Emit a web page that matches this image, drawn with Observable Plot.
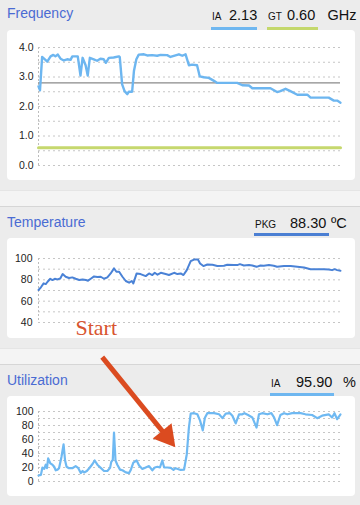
<!DOCTYPE html>
<html>
<head>
<meta charset="utf-8">
<script src="https://cdn.jsdelivr.net/npm/d3@7"></script>
<script src="https://cdn.jsdelivr.net/npm/@observablehq/plot@0.6"></script>
<style>
  html, body { margin: 0; padding: 0; }
  body { width: 360px; height: 505px; overflow: hidden; background: #ececec; position: relative; font-family: "Liberation Sans", Arial, sans-serif; }
  .abs { position: absolute; white-space: nowrap; line-height: 1; }
  .title { font-size: 14px; color: #4a6bd3; }
  .small { font-size: 10px; color: #111; }
  .val { font-size: 14.5px; color: #111; }
  .bar { position: absolute; height: 3px; }
  .band { position: absolute; left: 0; width: 360px; height: 15px; background: #f4f4f4; border-top: 1px solid #e5e5e5; border-bottom: 1px solid #d6d6d6; }
  .card { position: absolute; left: 7px; width: 348px; background: #fff; border-radius: 4px; }
  .card svg { position: absolute; left: 0; top: 0; }
</style>
</head>
<body>
<div class="band" style="top:190px"></div>
<div class="band" style="top:348px"></div>

<div class="abs title" style="left:7px;top:6.4px">Frequency</div>
<div class="abs small" style="left:212px;top:11.5px">IA</div>
<div class="abs val" style="left:229px;top:7.8px">2.13</div>
<div class="bar" style="left:211px;top:27px;width:46px;background:#6fb7f0"></div>
<div class="abs small" style="left:268px;top:11.5px">GT</div>
<div class="abs val" style="left:287px;top:7.8px">0.60</div>
<div class="bar" style="left:267px;top:27px;width:51px;background:#c4d86c"></div>
<div class="abs val" style="left:327.5px;top:7.8px">GHz</div>

<div class="abs title" style="left:7px;top:214.8px">Temperature</div>
<div class="abs small" style="left:255px;top:219.8px">PKG</div>
<div class="abs val" style="left:290px;top:216px">88.30</div>
<div class="abs val" style="left:331px;top:216px">ºC</div>
<div class="bar" style="left:254px;top:233px;width:75px;background:#4b7fd3"></div>

<div class="abs title" style="left:7px;top:373px">Utilization</div>
<div class="abs small" style="left:271px;top:378.8px">IA</div>
<div class="abs val" style="left:296px;top:375px">95.90</div>
<div class="abs val" style="left:343px;top:375px">%</div>
<div class="bar" style="left:270px;top:392.5px;width:64px;background:#6fb7f0"></div>

<div class="card" id="freq" style="top:30px;height:150px"></div>
<div class="card" id="temp" style="top:238px;height:100px"></div>
<div class="card" id="util" style="top:396px;height:100px"></div>

<script>
// ---------- data ----------
const freqTime = [0, 0.3, 0.5, 1.2, 2.3, 2.9, 4.0, 4.9, 5.6, 6.4, 7.3, 8.4, 9.5, 10.6, 11.2, 13.0, 13.9, 14.6, 15.6, 16.3, 17.0, 18.3, 19.4, 20.5, 21.6, 22.3, 23.3, 24.9, 26.6, 26.9, 27.7, 28.5, 29.4, 29.9, 31.0, 31.6, 32.4, 33.2, 34.9, 36.0, 37.6, 39.3, 40.4, 42.6, 43.7, 46.5, 47.6, 48.7, 49.8, 50.9, 52.5, 53.4, 54.7, 56.4, 58.1, 59.2, 65.8, 67.5, 69.7, 70.8, 76.8, 79.0, 80.1, 81.8, 83.4, 85.7, 89.0, 90.1, 96.1, 97.8, 98.9, 100];
const freqIA = [2.68, 2.6, 2.55, 3.68, 3.58, 3.52, 3.7, 3.75, 3.7, 3.76, 3.62, 3.56, 3.6, 3.58, 3.7, 3.7, 3.05, 3.65, 3.4, 3.05, 3.65, 3.6, 3.55, 3.62, 3.6, 3.48, 3.65, 3.66, 3.7, 3.68, 2.75, 2.52, 2.42, 2.5, 2.5, 3.2, 3.6, 3.76, 3.77, 3.73, 3.74, 3.72, 3.75, 3.74, 3.68, 3.77, 3.72, 3.77, 3.4, 3.42, 3.4, 3.02, 2.99, 2.97, 2.87, 2.8, 2.8, 2.72, 2.71, 2.62, 2.62, 2.49, 2.52, 2.6, 2.52, 2.4, 2.4, 2.3, 2.3, 2.2, 2.2, 2.13];
const freqGTTime = [0, 100];
const freqGT = [0.60, 0.60];
const freqRef = [2.80];
const freqGrid = [0, 0.5, 1, 1.5, 2, 2.5, 3, 3.5, 4];
const freqTicks = [0, 1, 2, 3, 4];

const tempTime = [0, 0.8, 1.7, 2.4, 3.0, 3.9, 4.6, 5.4, 6.3, 7.2, 8.0, 9.0, 10.1, 11.2, 12.3, 13.5, 14.6, 15.7, 16.4, 17.3, 18.4, 19.5, 20.6, 21.7, 22.8, 23.9, 25.0, 25.8, 26.7, 27.8, 28.9, 30.0, 30.9, 31.4, 32.5, 33.8, 35.5, 36.6, 37.7, 38.5, 39.4, 40.5, 42.1, 43.2, 44.9, 46.0, 47.1, 48.0, 49.1, 50.4, 51.5, 52.8, 53.5, 54.6, 55.9, 57.6, 59.2, 61.4, 62.5, 64.7, 65.8, 66.7, 68.0, 69.7, 70.8, 72.2, 73.5, 74.6, 76.3, 77.9, 79.0, 81.3, 83.5, 85.7, 87.9, 90.1, 92.3, 94.5, 96.1, 97.2, 98.1, 98.9, 100];
const tempPKG = [70.5, 73, 76.7, 76, 78.2, 81, 79.8, 81, 80.4, 81.3, 85.4, 82.9, 81.7, 82.3, 81, 79.8, 80.4, 79.8, 79.2, 81, 83.2, 82.6, 82.9, 81, 82.3, 86, 90.7, 87.6, 87.6, 82.9, 78.9, 77.3, 78.9, 76.7, 86, 85.4, 83.5, 86, 84.5, 86.6, 84.8, 86.6, 85.4, 84.5, 86.6, 85.4, 86, 84.5, 89.1, 97.5, 99, 99, 95.3, 92.9, 94.4, 94.1, 92.9, 93.2, 94.1, 93.8, 93.8, 94.7, 93.5, 93.8, 93.5, 92.2, 93.5, 93.2, 93.8, 93.2, 92.2, 92.9, 92.9, 92.2, 91.6, 90, 90, 90, 89.7, 89.1, 90, 89.1, 88.5];
const tempGrid = [40, 50, 60, 70, 80, 90, 100];
const tempTicks = [40, 60, 80, 100];

const utilTime = [0, 0.8, 1.3, 1.9, 2.4, 2.8, 3.2, 3.9, 4.6, 5.2, 5.7, 6.3, 6.8, 7.6, 8.3, 8.8, 9.3, 10.1, 11.2, 12.3, 13.1, 14.0, 14.6, 15.1, 16.0, 16.8, 17.9, 18.6, 19.5, 20.6, 21.7, 22.8, 23.7, 24.1, 24.6, 25.0, 25.5, 26.1, 27.0, 27.8, 28.9, 30.0, 30.5, 31.4, 32.5, 33.3, 34.4, 35.5, 36.6, 37.7, 38.5, 39.4, 40.2, 41.0, 41.6, 42.7, 43.8, 44.7, 45.4, 47.1, 48.2, 49.1, 49.8, 50.4, 51.5, 52.6, 53.5, 54.4, 55.1, 55.9, 58.1, 59.8, 60.9, 62.0, 63.4, 64.2, 65.3, 66.4, 67.5, 68.2, 69.4, 70.8, 72.2, 73.0, 74.1, 75.8, 77.1, 78.0, 79.0, 80.1, 81.3, 82.4, 84.0, 86.8, 88.4, 90.6, 92.3, 93.9, 96.1, 97.2, 98.0, 98.9, 100];
const utilIA = [8.5, 9.5, 20, 18, 24, 19, 33, 26, 24, 21, 16, 17, 19, 35, 53, 30, 21, 19, 19, 22, 19.5, 12, 15, 13, 15, 19, 25, 30, 24, 19.5, 15, 15, 19.5, 28, 31, 70, 30, 24, 17, 16, 13, 12, 16, 27, 30, 23, 18, 20, 22, 16, 20, 21, 20, 30, 20, 20, 19.5, 16.5, 19, 16.5, 17, 39, 77, 97, 97.6, 96, 87, 73, 91, 97.6, 97.6, 96, 90.5, 97, 97.6, 94, 83, 96, 96, 97.6, 95, 91.5, 77, 96, 97.6, 96, 97.6, 91.5, 80.5, 95, 97.6, 96, 97.6, 97.6, 96, 95, 90.5, 94, 96, 91.5, 97.6, 89, 96];
const utilGrid = [0, 10, 20, 30, 40, 50, 60, 70, 80, 90, 100];
const utilTicks = [0, 20, 40, 60, 80, 100];

// annotation ("Start" arrow), in utilization data units
const arrowFrom = {t: 21.1, v: 177.6};
const arrowTo = {t: 42.4, v: 64.6};
const arrowAngle = 141;
const startLabel = {t: 12.25, v: 208.6, text: "Start"};

// ---------- styles ----------
const gridStyle = {stroke: "#c6c6c6", strokeDasharray: "2,3", strokeWidth: 1};
const baseStyle = {background: "transparent", overflow: "visible", fontFamily: "Liberation Sans, Arial, sans-serif", fontSize: "10.5px", color: "#222"};
const xScale = {domain: [0, 100], axis: null};

const pts = (ts, vs) => ts.map((t, i) => ({t, v: vs[i]}));

// Frequency
document.getElementById("freq").append(Plot.plot({
  width: 348, height: 150,
  marginLeft: 31, marginRight: 15, marginTop: 17, marginBottom: 15,
  style: baseStyle,
  x: xScale,
  y: {domain: [0, 4], ticks: freqTicks, tickSize: 0, tickPadding: 5, tickFormat: d3.format(".1f"), label: null},
  marks: [
    Plot.ruleY(freqGrid, gridStyle),
    Plot.ruleX([0], {stroke: "#bdbdbd", strokeDasharray: "2,2"}),
    Plot.ruleY(freqRef, {stroke: "#8a8a8a", strokeWidth: 1.3}),
    Plot.line(pts(freqGTTime, freqGT), {x: "t", y: "v", stroke: "#c6d86e", strokeWidth: 3}),
    Plot.line(pts(freqTime, freqIA), {x: "t", y: "v", stroke: "#6db6f0", strokeWidth: 2.4, strokeLinejoin: "round"})
  ]
}));

// Temperature
document.getElementById("temp").append(Plot.plot({
  width: 348, height: 100,
  marginLeft: 31, marginRight: 15, marginTop: 20, marginBottom: 16,
  style: baseStyle,
  x: xScale,
  y: {domain: [40, 100], ticks: tempTicks, tickSize: 0, tickPadding: 6, label: null},
  marks: [
    Plot.ruleY(tempGrid, gridStyle),
    Plot.ruleX([0], {stroke: "#bdbdbd", strokeDasharray: "2,2"}),
    Plot.line(pts(tempTime, tempPKG), {x: "t", y: "v", stroke: "#4a82d6", strokeWidth: 2, strokeLinejoin: "round"})
  ]
}));

// Utilization
document.getElementById("util").append(Plot.plot({
  width: 348, height: 100,
  marginLeft: 31, marginRight: 15, marginTop: 15, marginBottom: 15,
  style: baseStyle,
  x: xScale,
  y: {domain: [0, 100], ticks: utilTicks, tickSize: 0, tickPadding: 5, label: null},
  marks: [
    Plot.ruleY(utilGrid, gridStyle),
    Plot.ruleX([0], {stroke: "#bdbdbd", strokeDasharray: "2,2"}),
    Plot.line(pts(utilTime, utilIA), {x: "t", y: "v", stroke: "#6fb9f2", strokeWidth: 2.2, strokeLinejoin: "round"}),
    Plot.link([{x1: arrowFrom.t, y1: arrowFrom.v, x2: arrowTo.t, y2: arrowTo.v}], {x1: "x1", y1: "y1", x2: "x2", y2: "y2", stroke: "#db4b20", strokeWidth: 5}),
    Plot.dot([arrowTo], {x: "t", y: "v", symbol: "triangle", r: 9, rotate: arrowAngle, fill: "#db4b20", stroke: "none"}),
    Plot.text([startLabel], {x: "t", y: "v", text: "text", textAnchor: "start", lineAnchor: "bottom", fontFamily: "Liberation Serif, Times New Roman, serif", fontSize: 22, fill: "#d8552f"})
  ]
}));
</script>
</body>
</html>
